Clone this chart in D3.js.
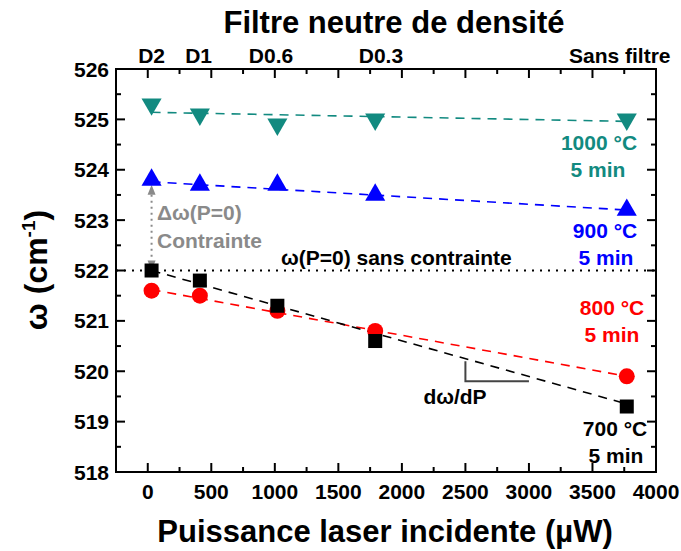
<!DOCTYPE html>
<html><head><meta charset="utf-8">
<script src="https://cdn.jsdelivr.net/npm/d3@7"></script>
<style>body{margin:0;background:#fff}text{font-family:"Liberation Sans",Arial,sans-serif;font-weight:bold}</style>
</head><body><svg id="c" width="681" height="551"></svg>
<script>
const power = [30, 410, 1020, 1790, 3770];
const w700 = [522.0, 521.8, 521.3, 520.6, 519.3];
const w800 = [521.6, 521.5, 521.2, 520.8, 519.9];
const w900 = [523.8, 523.7, 523.7, 523.5, 523.2];
const w1000 = [525.3, 525.1, 524.9, 525.0, 525.0];
// dashed linear-fit lines: value at first and last power
const fit700 = [522.0, 519.35];
const fit800 = [521.62, 519.9];
const fit900 = [523.76, 523.2];
const fit1000 = [525.14, 524.96];
const filterLabels = ["D2", "D1", "D0.6", "D0.3", "Sans filtre"];
const filterPos = [30, 400, 970, 1835, 3715];
const xTicks = [0, 500, 1000, 1500, 2000, 2500, 3000, 3500, 4000];
const yTicks = [518, 519, 520, 521, 522, 523, 524, 525, 526];
const w0 = 522;
const slopeTri = [[2500, 520.2], [2500, 519.8], [3000, 519.8]];

const svg = d3.select("#c");
const L = 116, R = 656, T = 69, B = 472;
const x = d3.scaleLinear().domain([-250, 4000]).range([L, R]);
const y = d3.scaleLinear().domain([518, 526]).range([B, T]);
const teal = "#128a80", blue = "#0000ff", red = "#ff0000", gray = "#8a8a8a";

svg.append("rect").attr("x", L).attr("y", T).attr("width", R - L).attr("height", B - T)
  .attr("fill", "none").attr("stroke", "#000").attr("stroke-width", 2);

const minorX = d3.range(-250, 4001, 250).filter(v => v > -250 && v < 4000);
const minorY = d3.range(518.5, 526, 1);
minorX.forEach(v => {
  const len = v % 500 === 0 ? 9 : 5;
  svg.append("line").attr("x1", x(v)).attr("x2", x(v)).attr("y1", B).attr("y2", B - len).attr("stroke", "#000").attr("stroke-width", 2);
  svg.append("line").attr("x1", x(v)).attr("x2", x(v)).attr("y1", T).attr("y2", T + len).attr("stroke", "#000").attr("stroke-width", 2);
});
yTicks.slice(1, -1).forEach(v => {
  svg.append("line").attr("x1", L).attr("x2", L + 9).attr("y1", y(v)).attr("y2", y(v)).attr("stroke", "#000").attr("stroke-width", 2);
  svg.append("line").attr("x1", R).attr("x2", R - 9).attr("y1", y(v)).attr("y2", y(v)).attr("stroke", "#000").attr("stroke-width", 2);
});
minorY.forEach(v => {
  svg.append("line").attr("x1", L).attr("x2", L + 5).attr("y1", y(v)).attr("y2", y(v)).attr("stroke", "#000").attr("stroke-width", 2);
  svg.append("line").attr("x1", R).attr("x2", R - 5).attr("y1", y(v)).attr("y2", y(v)).attr("stroke", "#000").attr("stroke-width", 2);
});
xTicks.forEach(v => svg.append("text").attr("x", x(v)).attr("y", 499).attr("text-anchor", "middle")
  .attr("font-size", 21).text(v));
yTicks.forEach(v => svg.append("text").attr("x", 109).attr("y", y(v) + 7.5).attr("text-anchor", "end")
  .attr("font-size", 21).text(v));
filterLabels.forEach((t, i) => svg.append("text").attr("x", x(filterPos[i])).attr("y", 63)
  .attr("text-anchor", "middle").attr("font-size", 21).text(t));

svg.append("text").attr("x", 394).attr("y", 33).attr("text-anchor", "middle").attr("font-size", 31).text("Filtre neutre de densité");
svg.append("text").attr("x", 385).attr("y", 542).attr("text-anchor", "middle").attr("font-size", 31).text("Puissance laser incidente (µW)");
const yt = svg.append("text").attr("transform", "translate(47,270) rotate(-90)").attr("text-anchor", "middle").attr("font-size", 32);
yt.append("tspan").text("ω (cm");
yt.append("tspan").attr("font-size", 19).attr("dy", -12).text("-1");
yt.append("tspan").attr("dy", 12).text(")");

svg.append("line").attr("x1", L).attr("x2", R).attr("y1", y(w0)).attr("y2", y(w0))
  .attr("stroke", "#000").attr("stroke-width", 2).attr("stroke-dasharray", "2,6");

const fits = [[fit1000, teal], [fit900, blue], [fit800, red], [fit700, "#000"]];
fits.forEach(([f, c]) => svg.append("line").attr("x1", x(power[0])).attr("x2", x(power[4]))
  .attr("y1", y(f[0])).attr("y2", y(f[1])).attr("stroke", c).attr("stroke-width", 1.6).attr("stroke-dasharray", "9,7"));

svg.append("path").attr("d", d3.line().x(d => x(d[0])).y(d => y(d[1]))(slopeTri))
  .attr("fill", "none").attr("stroke", "#444").attr("stroke-width", 2);

const ax = x(power[0]);
svg.append("line").attr("x1", ax).attr("x2", ax).attr("y1", y(523.7) + 10).attr("y2", y(w0) - 10)
  .attr("stroke", gray).attr("stroke-width", 2).attr("stroke-dasharray", "2,4");
svg.append("path").attr("d", `M${ax},${y(523.7)} l-4,10 l8,0 z`).attr("fill", gray);
svg.append("path").attr("d", `M${ax},${y(w0)} l-4,-10 l8,0 z`).attr("fill", gray);

const sym = (type, size) => d3.symbol().type(type).size(size)();
power.forEach((p, i) => {
  svg.append("path").attr("d", sym(d3.symbolTriangle, 175)).attr("fill", teal)
    .attr("transform", `translate(${x(p)},${y(w1000[i])}) rotate(180)`);
  svg.append("path").attr("d", sym(d3.symbolTriangle, 175)).attr("fill", blue)
    .attr("transform", `translate(${x(p)},${y(w900[i])})`);
  svg.append("circle").attr("cx", x(p)).attr("cy", y(w800[i])).attr("r", 8).attr("fill", red);
  svg.append("rect").attr("x", x(p) - 7).attr("y", y(w700[i]) - 7).attr("width", 14).attr("height", 14).attr("fill", "#000");
});

const ann = (t, xx, yy, c, anchor) => svg.append("text").attr("x", xx).attr("y", yy).attr("fill", c)
  .attr("text-anchor", anchor || "middle").attr("font-size", 21).text(t);
ann("1000 °C", 599, 149.5, teal); ann("5 min", 598, 176.5, teal);
ann("900 °C", 605, 237.5, blue); ann("5 min", 606, 264.5, blue);
ann("800 °C", 612, 314.5, red); ann("5 min", 612, 341.5, red);
ann("700 °C", 615, 435.5, "#000"); ann("5 min", 616, 462.5, "#000");
ann("dω/dP", 455, 404, "#000");
ann("ω(P=0) sans contrainte", 281, 265, "#000", "start");
ann("Δω(P=0)", 157, 219.5, gray, "start");
ann("Contrainte", 157, 247.5, gray, "start");
</script></body></html>
